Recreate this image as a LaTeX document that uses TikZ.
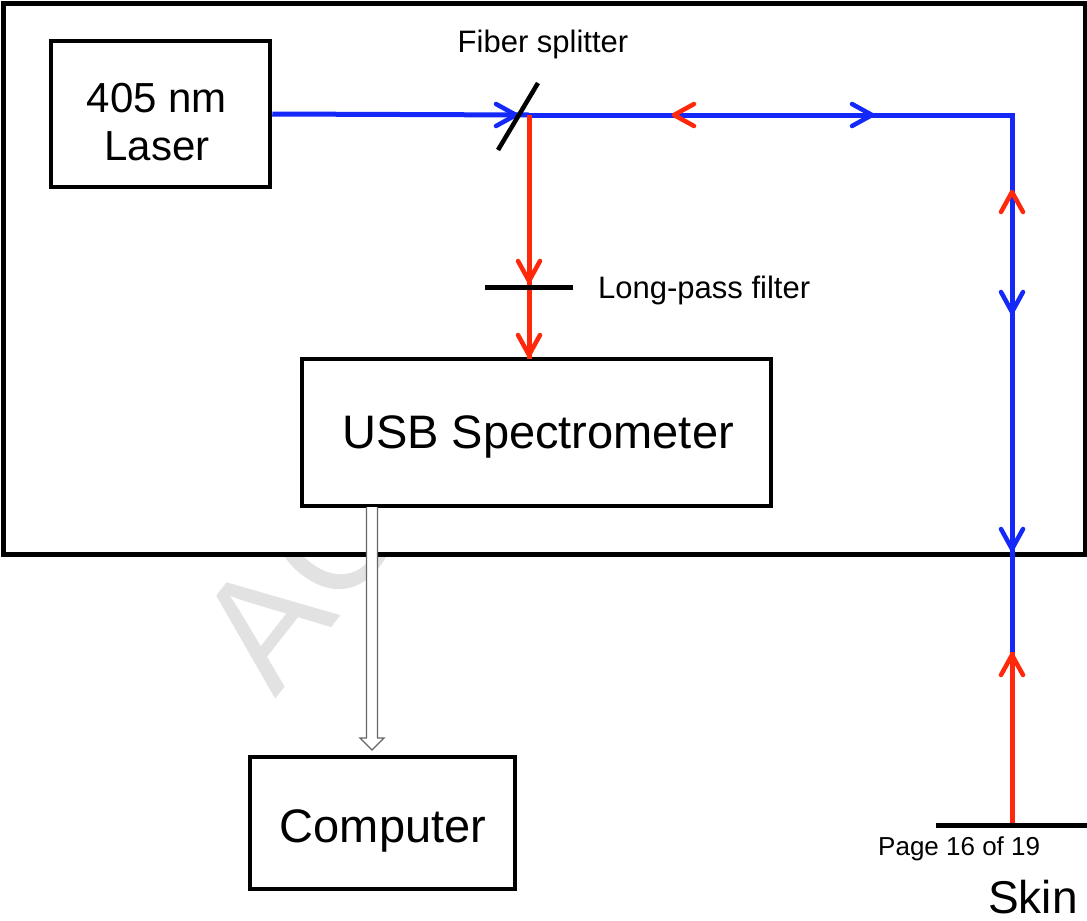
\documentclass[tikz,border=0pt]{standalone}
\usepackage{fontspec}
\setmainfont{Liberation Sans}
\usetikzlibrary{calc}
\definecolor{beamblue}{RGB}{20,40,250}
\definecolor{beamred}{RGB}{255,40,10}
\definecolor{wmgray}{RGB}{226,226,226}
\begin{document}
\begin{tikzpicture}[x=1pt,y=-1pt,
  boxstyle/.style={draw=black, line width=4.5pt, fill=white, inner sep=0pt},
  bluebeam/.style={draw=beamblue, line width=5pt},
  redbeam/.style={draw=beamred, line width=5pt},
  chev/.style={line width=4.5pt, line cap=round, line join=round},
  optic/.style={draw=black, line width=5pt},
  lbl/.style={inner sep=0pt, anchor=base},
  chevron/.pic={\draw[chev] (-20,-11) -- (0,0) -- (-20,11);}
]
\useasboundingbox (0,0) rectangle (1087,921);
% watermark
\node[anchor=base west, inner sep=0pt, text=wmgray, rotate=52,
      font=\fontsize{160}{160}\selectfont] (wm) at (275,700) {AC};
% enclosure
\node[boxstyle, line width=5pt, minimum width=1082pt, minimum height=551pt] (encl) at (544,278.5) {};
% boxes
\node[boxstyle, minimum width=219pt, minimum height=146pt] (laser) at (160.5,114) {};
\node[boxstyle, minimum width=469pt, minimum height=147pt] (spec) at (536.5,432.5) {};
\node[boxstyle, minimum width=265pt, minimum height=132pt] (comp) at (382.5,823) {};
% coordinates
\coordinate (spl) at (529,115);
\coordinate (corner) at (1012,115);
\coordinate (blueEnd) at (1012,652);
\coordinate (skinPt) at (1012,825);
\coordinate (specTop) at (529,359);
% beams
\draw[bluebeam] (laser.east) -- (spl);
\draw[bluebeam, line join=miter] (spl) -- (corner) -- (blueEnd);
\draw[redbeam] (spl) -- (specTop);
\draw[redbeam] (skinPt) -- (blueEnd);
% chevrons
\pic[beamblue] at (516,115) {chevron};
\pic[beamred, rotate=180] at (674,115) {chevron};
\pic[beamblue] at (872,115) {chevron};
\pic[beamred, rotate=90] at (1012,192) {chevron};
\pic[beamblue, rotate=-90] at (1012,312) {chevron};
\pic[beamblue, rotate=-90] at (1012,549) {chevron};
\pic[beamred, rotate=-90] at (529,281) {chevron};
\pic[beamred, rotate=-90] at (529,355) {chevron};
\pic[beamred, rotate=90] at (1012,655) {chevron};
% splitter and filter
\coordinate (splA) at (498,150);
\coordinate (splB) at (538,83);
\draw[optic, line width=4.5pt] (splA) -- (splB);
\coordinate (filtA) at (485,287);
\coordinate (filtB) at (573,287);
\draw[optic] (filtA) -- (filtB);
% skin
\coordinate (skinA) at (936,825);
\coordinate (skinB) at (1090,825);
\draw[optic] (skinA) -- (skinB);
% hollow arrow spectrometer -> computer
\coordinate (hoTop) at (372,507);
\coordinate (hoTip) at (372,750);
\draw[draw=black!60, line width=1.3pt, fill=white, line join=miter]
  ($(hoTop)+(-5.5,0)$) -- ($(hoTip)+(-5.5,-12)$) -- ($(hoTip)+(-12,-12)$) -- (hoTip)
  -- ($(hoTip)+(12,-12)$) -- ($(hoTip)+(5.5,-12)$) -- ($(hoTop)+(5.5,0)$);
% texts
\node[lbl, font=\fontsize{42}{42}\selectfont] (t405) at (157,112) {405 nm};
\node[lbl, font=\fontsize{42}{42}\selectfont] (tlaser) at (157,160) {Laser};
\node[lbl, font=\fontsize{31}{31}\selectfont] (tfiber) at (543,52) {Fiber splitter};
\node[lbl, anchor=base west, font=\fontsize{31}{31}\selectfont] (tfilt) at (598,298) {Long-pass filter};
\node[lbl, font=\fontsize{47}{47}\selectfont] (tspec) at (538,448) {USB Spectrometer};
\node[lbl, font=\fontsize{47}{47}\selectfont] (tcomp) at (383,842) {Computer};
\node[lbl, anchor=base west, font=\fontsize{26}{26}\selectfont] (tpage) at (878,855) {Page 16 of 19};
\node[lbl, anchor=base west, font=\fontsize{46}{46}\selectfont] (tskin) at (988,913) {Skin};
\end{tikzpicture}
\end{document}
